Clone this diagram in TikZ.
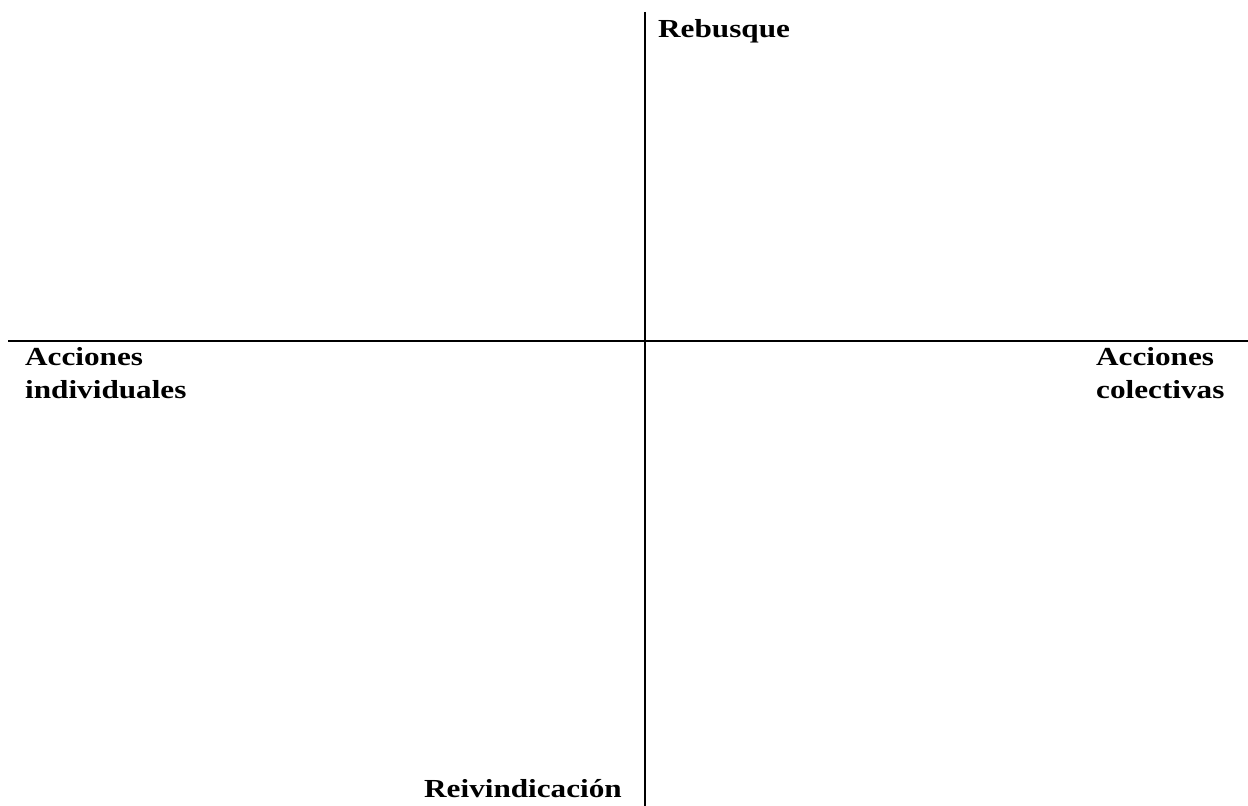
\documentclass[tikz,border=0pt]{standalone}
\usepackage{fontspec}
\setmainfont{Liberation Serif}[FakeStretch=1.2]
\begin{document}
\begin{tikzpicture}[x=1pt,y=1pt,
  axis/.style={line width=2pt,black},
  lbl/.style={font=\fontsize{26}{33}\selectfont\bfseries,inner sep=0pt,align=left}]
\useasboundingbox (0,0) rectangle (1248,806);
\coordinate (vt) at (645,794);
\coordinate (vb) at (645,0);
\coordinate (hl) at (8,465);
\coordinate (hr) at (1248,465);
\draw[axis] (vt) -- (vb);
\draw[axis] (hl) -- (hr);
\node[lbl,anchor=base west] (reb) at (658,768) {Rebusque};
\node[lbl,anchor=north west] (ind) at (25,459) {Acciones\\individuales};
\node[lbl,anchor=north west] (col) at (1096,459) {Acciones\\colectivas};
\node[lbl,anchor=base east] (rei) at (622,8) {Reivindicación};
\end{tikzpicture}
\end{document}
